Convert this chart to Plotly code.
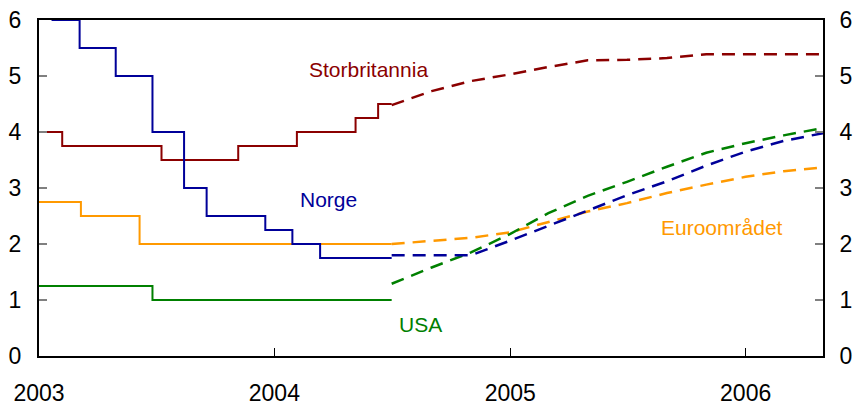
import plotly.graph_objects as go

### ==== DATA: styringsrenter (trinn) og terminrenter (stiplet) ==== ###
norge_datoer = ['2003-01-01', '2003-01-22', '2003-03-05', '2003-04-30', '2003-06-26', '2003-08-14',
                '2003-09-18', '2003-12-18', '2004-01-29', '2004-03-12', '2004-07-01']
norge_rente = [6.5, 6.0, 5.5, 5.0, 4.0, 3.0, 2.5, 2.25, 2.0, 1.75, 1.75]

uk_datoer = ['2003-01-01', '2003-02-06', '2003-07-10', '2003-11-06', '2004-02-05', '2004-05-06',
             '2004-06-10', '2004-07-01']
uk_rente = [4.0, 3.75, 3.5, 3.75, 4.0, 4.25, 4.5, 4.5]

euro_datoer = ['2003-01-01', '2003-03-07', '2003-06-06', '2004-07-01']
euro_rente = [2.75, 2.5, 2.0, 2.0]

usa_datoer = ['2003-01-01', '2003-06-26', '2004-07-01']
usa_rente = [1.25, 1.0, 1.0]

termin_datoer = ['2004-07-01', '2004-09-01', '2004-11-01', '2005-01-01', '2005-03-01', '2005-05-01',
                 '2005-07-01', '2005-09-01', '2005-11-01', '2006-01-01', '2006-03-01', '2006-05-01']
norge_termin = [1.80, 1.80, 1.80, 2.06, 2.32, 2.60, 2.87, 3.12, 3.40, 3.65, 3.84, 3.98]
uk_termin = [4.48, 4.73, 4.91, 5.03, 5.16, 5.28, 5.29, 5.32, 5.39, 5.39, 5.39, 5.39]
usa_termin = [1.29, 1.58, 1.85, 2.18, 2.55, 2.86, 3.11, 3.38, 3.63, 3.80, 3.94, 4.07]
euro_termin = [2.00, 2.06, 2.11, 2.21, 2.39, 2.58, 2.73, 2.91, 3.06, 3.20, 3.30, 3.37]

y_ticks = [0, 1, 2, 3, 4, 5, 6]

FONT = 'Arial, Liberation Sans, sans-serif'
farger = {'uk': '#8B0000', 'norge': '#000099', 'euro': '#FF9900', 'usa': '#008000'}

fig = go.Figure()

# solide trinnlinjer
for datoer, rente, farge in [(uk_datoer, uk_rente, farger['uk']),
                             (euro_datoer, euro_rente, farger['euro']),
                             (usa_datoer, usa_rente, farger['usa']),
                             (norge_datoer, norge_rente, farger['norge'])]:
    fig.add_trace(go.Scatter(x=datoer, y=rente, mode='lines', line_shape='hv',
                             line=dict(color=farge, width=2), showlegend=False))

# stiplede terminkurver
for termin, farge in [(uk_termin, farger['uk']), (euro_termin, farger['euro']),
                      (usa_termin, farger['usa']), (norge_termin, farger['norge'])]:
    fig.add_trace(go.Scatter(x=termin_datoer, y=termin, mode='lines',
                             line=dict(color=farge, width=2.5, dash='13px,8px'), showlegend=False))

# usynlig spor for hoyre akse
fig.add_trace(go.Scatter(x=['2003-01-01'], y=[0], yaxis='y2', mode='markers',
                         marker=dict(opacity=0), showlegend=False, hoverinfo='skip'))

etiketter = [('Storbritannia', '2004-05-26', 5.11, farger['uk']),
             ('Norge', '2004-03-25', 2.80, farger['norge']),
             ('USA', '2004-08-15', 0.57, farger['usa']),
             ('Euroområdet', '2005-11-26', 2.29, farger['euro'])]
for tekst, x, y, farge in etiketter:
    fig.add_annotation(x=x, y=y, text=tekst, showarrow=False,
                       font=dict(family=FONT, size=21, color=farge))

akse_y = dict(range=[0, 6], tickvals=y_ticks, showgrid=False, zeroline=False,
              showline=True, linecolor='black', linewidth=2, automargin=False,
              ticks='inside', ticklen=8, tickwidth=2, tickcolor='#808080',
              ticklabeloverflow='allow',
              tickfont=dict(family=FONT, size=23, color='black'), ticklabelstandoff=11)

fig.update_layout(
    width=855, height=405,
    margin=dict(l=39, r=32, t=20, b=49),
    plot_bgcolor='white', paper_bgcolor='white',
    showlegend=False,
    xaxis=dict(
        type='date', range=['2003-01-01', '2006-05-01'],
        tick0='2003-01-01', dtick='M12', tickformat='%Y',
        showgrid=False, zeroline=False, showline=True, mirror=True,
        linecolor='black', linewidth=2, automargin=False,
        ticks='inside', ticklen=8, tickwidth=1, tickcolor='black',
        ticklabeloverflow='allow',
        tickfont=dict(family=FONT, size=23, color='black'), ticklabelstandoff=15,
    ),
    yaxis=akse_y,
    yaxis2=dict(akse_y, overlaying='y', side='right', ticklabelstandoff=10),
)

# fjern standard body-marg slik at figuren fyller vinduet
fig.write_html("out.html", config={'displayModeBar': False},
               post_script="document.body.style.margin='0';")
